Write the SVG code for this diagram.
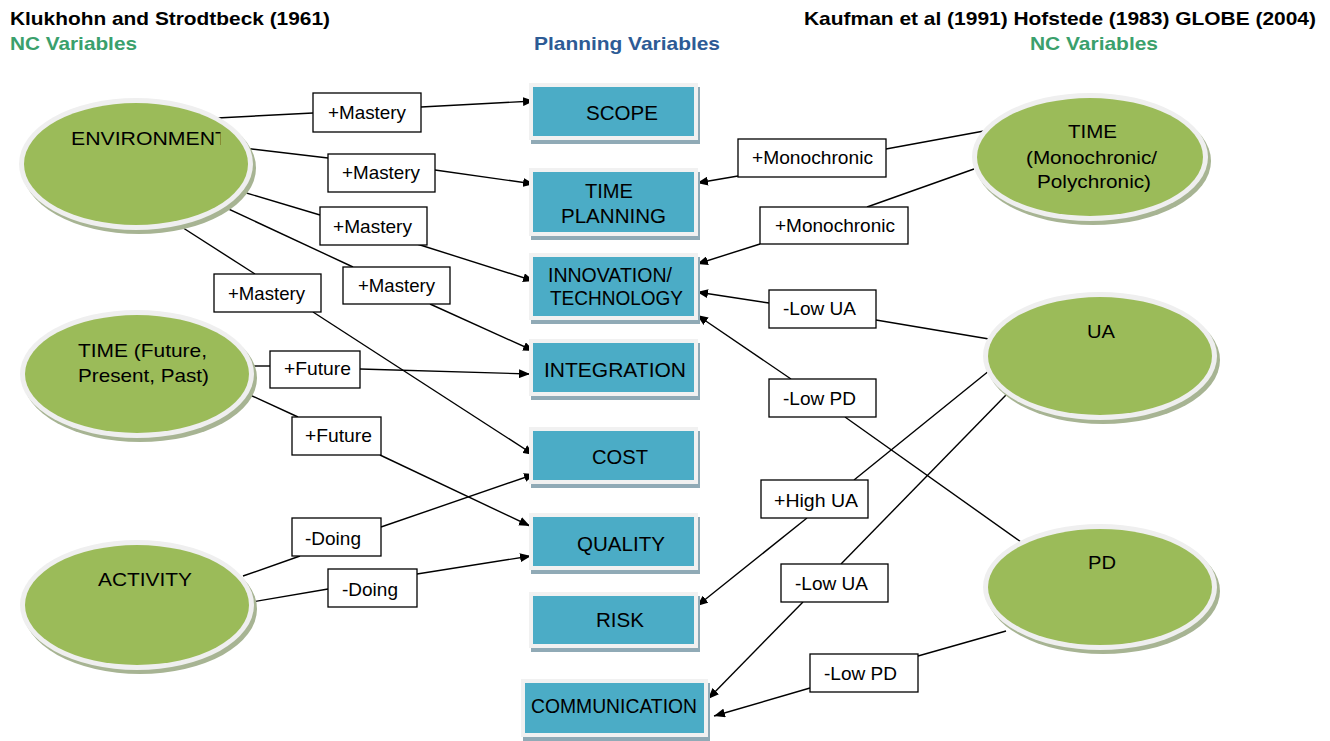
<svg xmlns="http://www.w3.org/2000/svg" width="1330" height="741" viewBox="0 0 1330 741">
<style>
text{font-family:"Liberation Sans",Arial,sans-serif;fill:#000}
.hd{font-size:18.5px;font-weight:bold}
.grn{fill:#3AA06C}
.blu{fill:#2D5B95}
.lt{font-size:19px}
.bt{font-size:20px}
.et{font-size:19px}
.lbl rect{fill:#fff;stroke:#000;stroke-width:1.3}
.sh{fill:#90AAB6}
.fr{fill:#F1F1F1}
.tl{fill:#4BACC6}
.esh{fill:#A7B493}
.eri{fill:#EFEFEF}
.egr{fill:#9BBB59}
#connectors line{stroke:#000;stroke-width:1.4;fill:none}
#connectors line.a{marker-end:url(#ah)}
</style>
<defs>
<marker id="ah" markerUnits="userSpaceOnUse" markerWidth="11" markerHeight="9" refX="11" refY="4.5" orient="auto">
<path d="M0,0 L11,4.5 L0,9 z" fill="#000"/>
</marker>
<clipPath id="envclip"><rect x="0" y="100" width="220.5" height="80"/></clipPath>
</defs>
<rect width="1330" height="741" fill="#fff"/>

<g id="headers">
<text class="hd" x="10" y="25" textLength="320" lengthAdjust="spacingAndGlyphs">Klukhohn and Strodtbeck (1961)</text>
<text class="hd grn" x="10" y="50" textLength="127" lengthAdjust="spacingAndGlyphs">NC Variables</text>
<text class="hd blu" x="534" y="50" textLength="186" lengthAdjust="spacingAndGlyphs">Planning Variables</text>
<text class="hd" x="804" y="25" textLength="512" lengthAdjust="spacingAndGlyphs">Kaufman et al (1991) Hofstede (1983) GLOBE (2004)</text>
<text class="hd grn" x="1030" y="50" textLength="128" lengthAdjust="spacingAndGlyphs">NC Variables</text>
</g>

<g id="connectors">
<line x1="217" y1="118" x2="313" y2="113"/>
<line class="a" x1="421" y1="107" x2="534" y2="101"/>
<line x1="243" y1="148" x2="328" y2="158"/>
<line class="a" x1="435" y1="170" x2="534" y2="184"/>
<line x1="243" y1="192" x2="320" y2="215"/>
<line class="a" x1="417" y1="244" x2="534" y2="281"/>
<line x1="207" y1="199" x2="353" y2="267"/>
<line class="a" x1="430" y1="304" x2="534" y2="351"/>
<line x1="177" y1="224" x2="255" y2="274"/>
<line class="a" x1="313" y1="312" x2="534" y2="455"/>
<line x1="250" y1="366" x2="270" y2="366"/>
<line class="a" x1="360" y1="369" x2="530" y2="374"/>
<line x1="250" y1="395" x2="298" y2="417"/>
<line class="a" x1="380" y1="455" x2="530" y2="526"/>
<line x1="243" y1="576" x2="300" y2="556"/>
<line class="a" x1="381" y1="527" x2="535" y2="474"/>
<line x1="252" y1="602" x2="328" y2="589"/>
<line class="a" x1="417" y1="574" x2="531" y2="556"/>
<line x1="984" y1="131" x2="886" y2="149"/>
<line class="a" x1="738" y1="176" x2="697" y2="183"/>
<line x1="974" y1="169" x2="867" y2="207"/>
<line class="a" x1="760" y1="244" x2="697" y2="264"/>
<line x1="995" y1="340" x2="876" y2="320"/>
<line class="a" x1="769" y1="303" x2="697" y2="292"/>
<line x1="1021" y1="542" x2="845" y2="417"/>
<line class="a" x1="791" y1="379" x2="697" y2="315"/>
<line x1="995" y1="366" x2="854" y2="480"/>
<line class="a" x1="807" y1="518" x2="697" y2="606"/>
<line x1="1006" y1="395" x2="841" y2="564"/>
<line class="a" x1="803" y1="602" x2="708" y2="699"/>
<line x1="1006" y1="631" x2="918" y2="656"/>
<line class="a" x1="810" y1="688" x2="714" y2="716"/>
</g>

<g id="env">
<ellipse class="esh" cx="139" cy="168" rx="117" ry="66"/>
<ellipse class="eri" cx="136" cy="164" rx="117" ry="66"/>
<ellipse class="egr" cx="136" cy="164" rx="112" ry="61"/>
<text class="et" x="71" y="145" textLength="157" lengthAdjust="spacingAndGlyphs" clip-path="url(#envclip)">ENVIRONMENT</text>
</g>
<g id="time-fpp">
<ellipse class="esh" cx="140" cy="378" rx="117" ry="64"/>
<ellipse class="eri" cx="137" cy="374" rx="117" ry="64"/>
<ellipse class="egr" cx="137" cy="374" rx="112" ry="59"/>
<text class="et" x="78" y="357" textLength="129" lengthAdjust="spacingAndGlyphs">TIME (Future,</text>
<text class="et" x="78" y="382" textLength="131" lengthAdjust="spacingAndGlyphs">Present, Past)</text>
</g>
<g id="activity">
<ellipse class="esh" cx="140" cy="609" rx="117" ry="65"/>
<ellipse class="eri" cx="137" cy="605" rx="117" ry="65"/>
<ellipse class="egr" cx="137" cy="605" rx="112" ry="60"/>
<text class="et" x="98" y="586" textLength="94" lengthAdjust="spacingAndGlyphs">ACTIVITY</text>
</g>
<g id="time-mp">
<ellipse class="esh" cx="1093" cy="161" rx="118" ry="64"/>
<ellipse class="eri" cx="1090" cy="157" rx="118" ry="64"/>
<ellipse class="egr" cx="1090" cy="157" rx="113" ry="59"/>
<text class="et" x="1068" y="138" textLength="49" lengthAdjust="spacingAndGlyphs">TIME</text>
<text class="et" x="1026" y="164" textLength="131" lengthAdjust="spacingAndGlyphs">(Monochronic/</text>
<text class="et" x="1037" y="188" textLength="114" lengthAdjust="spacingAndGlyphs">Polychronic)</text>
</g>
<g id="ua">
<ellipse class="esh" cx="1103" cy="360" rx="117" ry="64"/>
<ellipse class="eri" cx="1100" cy="356" rx="117" ry="64"/>
<ellipse class="egr" cx="1100" cy="356" rx="112" ry="59"/>
<text class="et" x="1087" y="338" textLength="28" lengthAdjust="spacingAndGlyphs">UA</text>
</g>
<g id="pd">
<ellipse class="esh" cx="1103" cy="591" rx="117" ry="63"/>
<ellipse class="eri" cx="1100" cy="587" rx="117" ry="63"/>
<ellipse class="egr" cx="1100" cy="587" rx="112" ry="58"/>
<text class="et" x="1088" y="569" textLength="28" lengthAdjust="spacingAndGlyphs">PD</text>
</g>

<g id="scope">
<rect class="sh" x="531" y="87" width="169" height="57"/>
<rect class="fr" x="529" y="83" width="169" height="57"/>
<rect class="tl" x="533" y="87" width="161" height="49"/>
<text class="bt" x="586" y="120" textLength="72" lengthAdjust="spacingAndGlyphs">SCOPE</text>
</g>
<g id="time-planning">
<rect class="sh" x="531" y="172" width="169" height="68"/>
<rect class="fr" x="529" y="168" width="169" height="68"/>
<rect class="tl" x="533" y="172" width="161" height="60"/>
<text class="bt" x="585" y="198" textLength="48" lengthAdjust="spacingAndGlyphs">TIME</text>
<text class="bt" x="561" y="223" textLength="105" lengthAdjust="spacingAndGlyphs">PLANNING</text>
</g>
<g id="innovation">
<rect class="sh" x="531" y="257" width="169" height="67"/>
<rect class="fr" x="529" y="253" width="169" height="67"/>
<rect class="tl" x="533" y="257" width="161" height="59"/>
<text class="bt" x="548" y="282" textLength="124" lengthAdjust="spacingAndGlyphs">INNOVATION/</text>
<text class="bt" x="550" y="305" textLength="133" lengthAdjust="spacingAndGlyphs">TECHNOLOGY</text>
</g>
<g id="integration">
<rect class="sh" x="531" y="343" width="169" height="57"/>
<rect class="fr" x="529" y="339" width="169" height="57"/>
<rect class="tl" x="533" y="343" width="161" height="49"/>
<text class="bt" x="544" y="377" textLength="142" lengthAdjust="spacingAndGlyphs">INTEGRATION</text>
</g>
<g id="cost">
<rect class="sh" x="531" y="431" width="169" height="57"/>
<rect class="fr" x="529" y="427" width="169" height="57"/>
<rect class="tl" x="533" y="431" width="161" height="49"/>
<text class="bt" x="592" y="464" textLength="56" lengthAdjust="spacingAndGlyphs">COST</text>
</g>
<g id="quality">
<rect class="sh" x="531" y="517" width="169" height="57"/>
<rect class="fr" x="529" y="513" width="169" height="57"/>
<rect class="tl" x="533" y="517" width="161" height="49"/>
<text class="bt" x="577" y="551" textLength="88" lengthAdjust="spacingAndGlyphs">QUALITY</text>
</g>
<g id="risk">
<rect class="sh" x="531" y="596" width="169" height="56"/>
<rect class="fr" x="529" y="592" width="169" height="56"/>
<rect class="tl" x="533" y="596" width="161" height="48"/>
<text class="bt" x="596" y="627" textLength="48" lengthAdjust="spacingAndGlyphs">RISK</text>
</g>
<g id="communication">
<rect class="sh" x="523" y="683" width="187" height="58"/>
<rect class="fr" x="521" y="679" width="187" height="58"/>
<rect class="tl" x="525" y="683" width="179" height="50"/>
<text class="bt" x="531" y="713" textLength="166" lengthAdjust="spacingAndGlyphs">COMMUNICATION</text>
</g>

<g id="l1" class="lbl"><rect x="313" y="93" width="108" height="39"/><text class="lt" x="328" y="119" textLength="78" lengthAdjust="spacingAndGlyphs">+Mastery</text></g>
<g id="l2" class="lbl"><rect x="328" y="154" width="107" height="38"/><text class="lt" x="342" y="179" textLength="78" lengthAdjust="spacingAndGlyphs">+Mastery</text></g>
<g id="l3" class="lbl"><rect x="320" y="207" width="107" height="38"/><text class="lt" x="333" y="233" textLength="79" lengthAdjust="spacingAndGlyphs">+Mastery</text></g>
<g id="l4" class="lbl"><rect x="343" y="267" width="107" height="37"/><text class="lt" x="358" y="292" textLength="77" lengthAdjust="spacingAndGlyphs">+Mastery</text></g>
<g id="l5" class="lbl"><rect x="214" y="274" width="107" height="38"/><text class="lt" x="228" y="300" textLength="77" lengthAdjust="spacingAndGlyphs">+Mastery</text></g>
<g id="l6" class="lbl"><rect x="270" y="351" width="90" height="37"/><text class="lt" x="284" y="375" textLength="67" lengthAdjust="spacingAndGlyphs">+Future</text></g>
<g id="l7" class="lbl"><rect x="292" y="417" width="89" height="38"/><text class="lt" x="305" y="442" textLength="67" lengthAdjust="spacingAndGlyphs">+Future</text></g>
<g id="l8" class="lbl"><rect x="292" y="518" width="89" height="38"/><text class="lt" x="305" y="545" textLength="56" lengthAdjust="spacingAndGlyphs">-Doing</text></g>
<g id="l9" class="lbl"><rect x="328" y="569" width="89" height="38"/><text class="lt" x="342" y="596" textLength="56" lengthAdjust="spacingAndGlyphs">-Doing</text></g>
<g id="l10" class="lbl"><rect x="738" y="139" width="148" height="38"/><text class="lt" x="752" y="164" textLength="121" lengthAdjust="spacingAndGlyphs">+Monochronic</text></g>
<g id="l11" class="lbl"><rect x="760" y="207" width="148" height="37"/><text class="lt" x="775" y="232" textLength="120" lengthAdjust="spacingAndGlyphs">+Monochronic</text></g>
<g id="l12" class="lbl"><rect x="769" y="290" width="107" height="38"/><text class="lt" x="783" y="315" textLength="73" lengthAdjust="spacingAndGlyphs">-Low UA</text></g>
<g id="l13" class="lbl"><rect x="769" y="379" width="107" height="38"/><text class="lt" x="783" y="405" textLength="73" lengthAdjust="spacingAndGlyphs">-Low PD</text></g>
<g id="l14" class="lbl"><rect x="761" y="480" width="107" height="38"/><text class="lt" x="774" y="507" textLength="84" lengthAdjust="spacingAndGlyphs">+High UA</text></g>
<g id="l15" class="lbl"><rect x="781" y="564" width="107" height="38"/><text class="lt" x="795" y="590" textLength="73" lengthAdjust="spacingAndGlyphs">-Low UA</text></g>
<g id="l16" class="lbl"><rect x="810" y="654" width="108" height="38"/><text class="lt" x="824" y="680" textLength="73" lengthAdjust="spacingAndGlyphs">-Low PD</text></g>
</svg>
